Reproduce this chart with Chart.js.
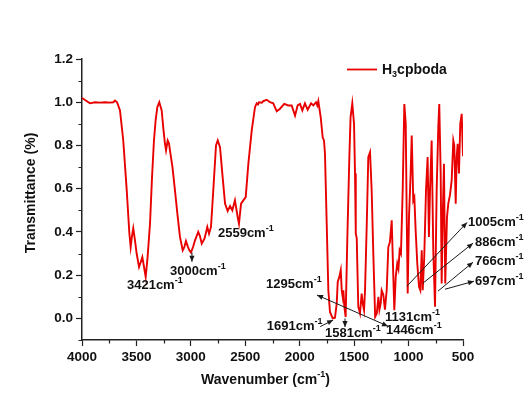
<!DOCTYPE html>
<html>
<head>
<meta charset="utf-8">
<script src="https://cdn.jsdelivr.net/npm/chart.js@4.4.1/dist/chart.umd.min.js"></script>
<style>
  html, body { margin: 0; padding: 0; background: #ffffff; }
  #wrap { width: 530px; height: 396px; }
</style>
</head>
<body>
<div id="wrap"><canvas id="c" width="530" height="396"></canvas></div>
<script>
// ---- data ----
const seriesName = 'H3cpboda';
const wavenumbers = [4000,3972,3927,3881,3835,3789,3743,3712,3697,3678,3651,3621,3589,3565,3553,3541,3529,3513,3498,3476,3461,3446,3431,3415,3398,3375,3357,3339,3323,3308,3290,3268,3253,3238,3228,3213,3201,3192,3169,3146,3123,3100,3075,3060,3045,3026,3014,2999,2980,2962,2932,2916,2900,2874,2849,2833,2815,2794,2769,2753,2732,2711,2686,2662,2640,2619,2595,2570,2558,2539,2518,2496,2472,2441,2411,2395,2383,2374,2347,2335,2303,2273,2243,2211,2181,2142,2105,2074,2043,2019,1997,1976,1952,1927,1896,1875,1850,1838,1829,1807,1789,1777,1768,1752,1737,1722,1697,1676,1660,1651,1636,1623,1614,1605,1599,1590,1578,1563,1544,1533,1517,1501,1492,1485,1476,1471,1462,1446,1431,1421,1409,1400,1384,1370,1354,1339,1323,1307,1292,1277,1268,1256,1247,1232,1217,1201,1186,1171,1155,1140,1131,1118,1104,1093,1082,1070,1054,1039,1026,1017,1008,996,981,971,957,947,935,920,904,892,879,870,856,840,825,813,803,788,773,757,742,727,718,705,696,684,675,663,647,635,620,604,589,580,567,558,549,537,525,512,500];
const transmittance = [1.02,1.01,0.995,1.0,0.998,1.0,0.998,1.0,1.008,1.0,0.962,0.823,0.592,0.394,0.33,0.38,0.417,0.36,0.30,0.238,0.26,0.284,0.24,0.192,0.28,0.44,0.65,0.823,0.92,0.977,1.0,0.962,0.88,0.808,0.777,0.823,0.81,0.777,0.70,0.592,0.48,0.377,0.315,0.33,0.358,0.33,0.315,0.305,0.33,0.361,0.40,0.38,0.346,0.37,0.423,0.392,0.423,0.592,0.80,0.823,0.792,0.67,0.531,0.497,0.52,0.5,0.546,0.469,0.438,0.531,0.546,0.561,0.715,0.869,0.977,0.995,0.99,1.0,0.998,1.005,1.011,1.0,0.995,0.958,0.97,0.992,0.985,0.985,0.938,0.985,0.992,0.962,0.995,0.965,0.995,0.985,1.0,0.985,1.005,0.93,0.838,0.823,0.763,0.438,0.13,0.03,0.0,0.003,0.069,0.169,0.192,0.223,0.13,0.10,0.13,0.054,0.007,0.361,0.746,0.93,0.995,0.9,0.67,0.392,0.37,0.254,0.054,0.023,0.115,0.07,0.038,0.13,0.438,0.746,0.769,0.592,0.284,0.007,0.023,0.10,0.04,0.07,0.13,0.11,0.04,0.13,0.33,0.354,0.454,0.192,0.038,0.192,0.254,0.23,0.315,0.30,0.592,0.992,0.9,0.469,0.115,0.469,0.67,0.846,0.546,0.56,0.408,0.254,0.146,0.13,0.315,0.13,0.284,0.592,0.746,0.377,0.592,0.823,0.315,0.054,0.592,0.885,0.992,0.67,0.162,0.515,0.715,0.162,0.469,0.531,0.57,0.638,0.823,0.80,0.531,0.746,0.808,0.67,0.9,0.946,0.75];

const xTicks = [4000,3500,3000,2500,2000,1500,1000,500];
const xMinorTicks = [3750,3250,2750,2250,1750,1250,750];
const yTicks = [0.0,0.2,0.4,0.6,0.8,1.0,1.2];
const yMinorTicks = [-0.1,0.1,0.3,0.5,0.7,0.9,1.1];

// peak labels (text, anchor in data units: wavenumber, transmittance; left-aligned, vertically centred)
const peakLabels = ['3421cm','3000cm','2559cm','1295cm','1691cm','1581cm','1131cm','1446cm','1005cm','886cm','766cm','697cm'];
const peakLabelWn = [3587,3192,2751,2310,2303,1768,1217,1208,454,390,390,390];
const peakLabelT  = [0.154,0.218,0.393,0.158,-0.036,-0.068,0.006,-0.058,0.444,0.352,0.265,0.172];
// arrows: start (wn,t) -> end (wn,t); heads: 'end' | 'both'
const arrowFromWn = [2990,1841,1812,1584,1015,868,730,665];
const arrowFromT  = [0.305,0.108,-0.038,0.0,0.149,0.163,0.126,0.135];
const arrowToWn   = [2990,1189,1693,1584,463,408,408,399];
const arrowToT    = [0.262,-0.036,-0.008,-0.04,0.444,0.348,0.26,0.172];
const arrowHeads  = ['end','both','end','end','end','end','end','end'];

const FONT = '"Liberation Sans", Arial, Helvetica, sans-serif';
const RED = 'rgb(232,0,0)';
const INK = '#111111';

function drawRich(ctx, x, y, parts, size, align) {
  let total = 0;
  for (const [t, k] of parts) {
    ctx.font = `bold ${k ? Math.round(size * 0.66) : size}px ${FONT}`;
    total += ctx.measureText(t).width;
  }
  let cx = align === 'center' ? x - total / 2 : x;
  ctx.textBaseline = 'middle';
  ctx.textAlign = 'left';
  for (const [t, k] of parts) {
    const fs = k ? Math.round(size * 0.66) : size;
    ctx.font = `bold ${fs}px ${FONT}`;
    const dy = k === 'sup' ? -size * 0.38 : (k === 'sub' ? size * 0.32 : 0);
    ctx.fillText(t, cx, y + dy);
    cx += ctx.measureText(t).width;
  }
  return total;
}

function arrowHead(ctx, x1, y1, x2, y2) {
  const a = Math.atan2(y2 - y1, x2 - x1);
  const L = 6, W = 2.6;
  ctx.beginPath();
  ctx.moveTo(x2, y2);
  ctx.lineTo(x2 - L * Math.cos(a) + W * Math.sin(a), y2 - L * Math.sin(a) - W * Math.cos(a));
  ctx.lineTo(x2 - L * Math.cos(a) - W * Math.sin(a), y2 - L * Math.sin(a) + W * Math.cos(a));
  ctx.closePath();
  ctx.fill();
}

const decorPlugin = {
  id: 'decor',
  afterDraw(chart) {
    const ctx = chart.ctx;
    const xs = chart.scales.x, ys = chart.scales.y;
    const ca = chart.chartArea;
    ctx.save();
    // minor ticks
    ctx.strokeStyle = '#222';
    ctx.lineWidth = 1.2;
    ctx.beginPath();
    for (const v of xMinorTicks) {
      const px = Math.round(xs.getPixelForValue(v)) + 0.5;
      ctx.moveTo(px, ca.bottom);
      ctx.lineTo(px, ca.bottom + 3.5);
    }
    for (const v of yMinorTicks) {
      const py = Math.round(ys.getPixelForValue(v)) + 0.5;
      ctx.moveTo(ca.left, py);
      ctx.lineTo(ca.left - 3.5, py);
    }
    ctx.stroke();

    ctx.fillStyle = INK;
    // axis titles
    drawRich(ctx, (ca.left + ca.right) / 2 - 7, 380, [['Wavenumber (cm', ''], ['-1', 'sup'], [')', '']], 14, 'center');
    ctx.save();
    ctx.translate(31, 193);
    ctx.rotate(-Math.PI / 2);
    drawRich(ctx, 0, 0, [['Transmittance (%)', '']], 14, 'center');
    ctx.restore();

    // legend
    ctx.strokeStyle = RED;
    ctx.lineWidth = 1.8;
    ctx.beginPath();
    ctx.moveTo(347, 69.5);
    ctx.lineTo(377, 69.5);
    ctx.stroke();
    ctx.fillStyle = INK;
    drawRich(ctx, 382, 70, [['H', ''], ['3', 'sub'], ['cpboda', '']], 14, 'left');

    // peak labels
    for (let i = 0; i < peakLabels.length; i++) {
      const px = xs.getPixelForValue(peakLabelWn[i]);
      const py = ys.getPixelForValue(peakLabelT[i]);
      drawRich(ctx, px, py, [[peakLabels[i], ''], ['-1', 'sup']], 13, 'left');
    }
    // arrows
    ctx.strokeStyle = '#1a1a1a';
    ctx.fillStyle = '#1a1a1a';
    ctx.lineWidth = 1;
    for (let i = 0; i < arrowFromWn.length; i++) {
      const x1 = xs.getPixelForValue(arrowFromWn[i]), y1 = ys.getPixelForValue(arrowFromT[i]);
      const x2 = xs.getPixelForValue(arrowToWn[i]), y2 = ys.getPixelForValue(arrowToT[i]);
      ctx.beginPath();
      ctx.moveTo(x1, y1);
      ctx.lineTo(x2, y2);
      ctx.stroke();
      arrowHead(ctx, x1, y1, x2, y2);
      if (arrowHeads[i] === 'both') arrowHead(ctx, x2, y2, x1, y1);
    }
    ctx.restore();
  }
};

const points = wavenumbers.map((w, i) => ({ x: w, y: transmittance[i] }));

new Chart(document.getElementById('c'), {
  type: 'line',
  data: {
    datasets: [{
      label: seriesName,
      data: points,
      borderColor: RED,
      backgroundColor: RED,
      borderWidth: 1.9,
      pointRadius: 0,
      tension: 0,
      fill: false
    }]
  },
  options: {
    responsive: false,
    animation: false,
    devicePixelRatio: 1,
    layout: { padding: { top: 59, right: 67, left: 0, bottom: 0 } },
    plugins: { legend: { display: false }, tooltip: { enabled: false } },
    scales: {
      x: {
        type: 'linear',
        reverse: true,
        min: 500,
        max: 4000,
        afterBuildTicks: (s) => { s.ticks = xTicks.map(v => ({ value: v })); },
        afterFit: (s) => { s.height = 56; },
        ticks: {
          color: INK,
          font: { family: FONT, size: 13.5, weight: 'bold' },
          padding: 3,
          maxRotation: 0,
          autoSkip: false,
          callback: (v) => String(v)
        },
        grid: { drawOnChartArea: false, drawTicks: true, tickLength: 6, tickColor: '#222', tickWidth: 1.2 },
        border: { display: true, color: '#222', width: 1.5 }
      },
      y: {
        type: 'linear',
        min: -0.1,
        max: 1.2,
        afterBuildTicks: (s) => { s.ticks = yTicks.map(v => ({ value: v })); },
        afterFit: (s) => { s.width = 82; },
        ticks: {
          color: INK,
          font: { family: FONT, size: 13.5, weight: 'bold' },
          padding: 3,
          autoSkip: false,
          callback: (v) => Number(v).toFixed(1)
        },
        grid: { drawOnChartArea: false, drawTicks: true, tickLength: 6, tickColor: '#222', tickWidth: 1.2 },
        border: { display: true, color: '#222', width: 1.5 }
      }
    }
  },
  plugins: [decorPlugin]
});
</script>
</body>
</html>
